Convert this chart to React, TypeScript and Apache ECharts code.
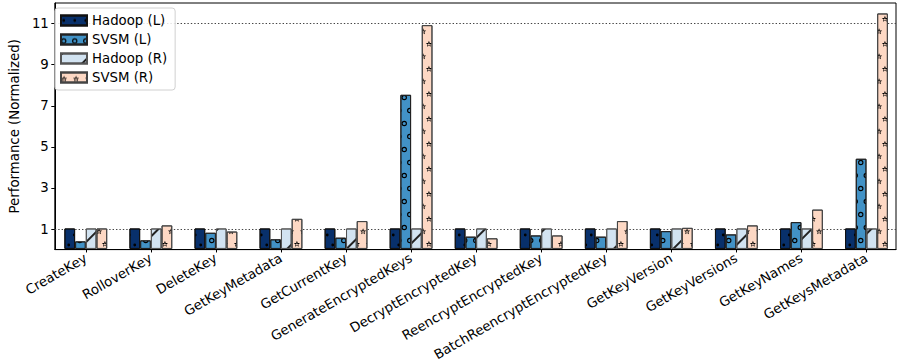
import React, { useEffect, useRef } from "react";
import * as echarts from "echarts";

const categories = [
  "CreateKey",
  "RolloverKey",
  "DeleteKey",
  "GetKeyMetadata",
  "GetCurrentKey",
  "GenerateEncryptedKeys",
  "DecryptEncryptedKey",
  "ReencryptEncryptedKey",
  "BatchReencryptEncryptedKey",
  "GetKeyVersion",
  "GetKeyVersions",
  "GetKeyNames",
  "GetKeysMetadata",
];
const hadoopL = [1, 1, 1, 1, 1, 1, 1, 1, 1, 1, 1, 1, 1];
const svsmL = [0.37, 0.42, 0.79, 0.47, 0.55, 7.52, 0.6, 0.66, 0.6, 0.87, 0.71, 1.31, 4.4];
const hadoopR = [1, 1, 1, 1, 1, 1, 1, 1, 1, 1, 1, 1, 1];
const svsmR = [1.0, 1.15, 0.85, 1.47, 1.36, 10.92, 0.52, 0.66, 1.36, 1.03, 1.15, 1.92, 11.49];
const seriesNames = ["Hadoop (L)", "SVSM (L)", "Hadoop (R)", "SVSM (R)"];
const yTicks = [1, 3, 5, 7, 9, 11];
const refLines = [1, 11];

// ---- hatch symbol helpers (pattern shapes only) ----
function star(cx: number, cy: number, R: number, r: number, reverse: boolean) {
  const pts: string[] = [];
  for (let i = 0; i < 10; i++) {
    const ang = -Math.PI / 2 + (i * Math.PI) / 5;
    const rad = i % 2 === 0 ? R : r;
    pts.push((cx + rad * Math.cos(ang)).toFixed(2) + " " + (cy + rad * Math.sin(ang)).toFixed(2));
  }
  if (reverse) pts.reverse();
  return "M " + pts.join(" L ") + " Z ";
}
function hollowStar(cx: number, cy: number, R: number) {
  return star(cx, cy, R, R * 0.45, false) + star(cx, cy + R * 0.1, R * 0.5, R * 0.2, true);
}
function circle(cx: number, cy: number, r: number, ccw: boolean) {
  const s = ccw ? 0 : 1;
  return `M ${cx} ${cy - r} A ${r} ${r} 0 1 ${s} ${cx} ${cy + r} A ${r} ${r} 0 1 ${s} ${cx} ${cy - r} Z `;
}
function ring(cx: number, cy: number, r: number, w: number) {
  return circle(cx, cy, r, false) + circle(cx, cy, r - w, true);
}
function tile(W: number, H: number, body: string) {
  // zero-area corner marks so the symbol box equals the tile
  return `path://M 0 0 L 0 0 Z M ${W} ${H} L ${W} ${H} Z ` + body;
}
const SW = 12;
const STAR_TILE = tile(SW, 25, hollowStar(3, 6.6, 3.3) + hollowStar(9, 19.1, 3.3));
const RW = 11;
const RING_TILE = tile(RW, 26, ring(2.75, 6.5, 2.7, 1.1) + ring(8.25, 19.5, 2.7, 1.1));
const DOT_TILE = tile(RW, 20, circle(2.75, 5, 1.4, false) + circle(8.25, 15, 1.4, false));

export default function App() {
  const ref = useRef<HTMLDivElement>(null);
  useEffect(() => {
    if (!ref.current) return;
    const chart = echarts.init(ref.current, null, { renderer: "svg" });
    const font = "'DejaVu Sans', sans-serif";
    const fs = 13.3;
    const colors = ["#08306b", "#4292c6", "#d2e3f1", "#fdd8c4"];
    const borders = ["#111", "#222", "#555", "#444"];
    const decals: any[] = [
      { symbol: DOT_TILE, symbolSize: 1, symbolKeepAspect: false, color: "#000", dashArrayX: [RW, 0], dashArrayY: [20, 0] },
      { symbol: RING_TILE, symbolSize: 1, symbolKeepAspect: false, color: "#000", dashArrayX: [RW, 0], dashArrayY: [26, 0] },
      {
        symbol: "rect",
        symbolSize: 1,
        color: "#222",
        dashArrayX: [1, 0],
        dashArrayY: [1.2, 19],
        rotation: -Math.PI / 4,
      },
      { symbol: STAR_TILE, symbolSize: 1, symbolKeepAspect: false, color: "#000", dashArrayX: [SW, 0], dashArrayY: [25, 0] },
    ];
    const data = [hadoopL, svsmL, hadoopR, svsmR];
    const series: any[] = data.map((arr, si) => ({
      name: seriesNames[si],
      type: "bar",
      xAxisIndex: 0,
      yAxisIndex: 0,
      barWidth: 10.7,
      barGap: "0%",
      z: 3,
      itemStyle: {
        color: colors[si],
        borderColor: borders[si],
        borderWidth: 1,
        decal: decals[si],
      },
      data: arr,
    }));
    series.push({
      name: "ref",
      type: "line",
      xAxisIndex: 1,
      yAxisIndex: 1,
      data: [],
      silent: true,
      markLine: {
        silent: true,
        symbol: "none",
        z: 1,
        label: { show: false },
        lineStyle: { color: "#444", type: [1.4, 2], width: 1 },
        data: refLines.map((v) => ({ yAxis: v })),
      },
    });
    const bandLeft = 53.27;
    const bandRight = 899 - 904.2;
    chart.setOption({
      animation: false,
      grid: [
        { left: bandLeft, right: bandRight, top: 3, bottom: 113.4, show: false },
        {
          left: 48.5,
          right: 3,
          top: 3,
          bottom: 113.4,
          show: true,
          borderColor: "#000",
          borderWidth: 1,
          backgroundColor: "transparent",
        },
      ],
      legend: {
        orient: "vertical",
        left: 55,
        top: 8,
        itemWidth: 26,
        itemHeight: 10,
        itemGap: 3,
        padding: [4.5, 8, 4.5, 5],
        backgroundColor: "rgba(255,255,255,0.85)",
        borderColor: "#d0d0d0",
        borderWidth: 1,
        borderRadius: 3,
        icon: "rect",
        textStyle: { fontSize: fs, color: "#000", fontFamily: font, lineHeight: 16 },
        data: seriesNames,
      },
      xAxis: [
        {
          type: "category",
          gridIndex: 0,
          data: categories,
          boundaryGap: true,
          axisLine: { show: false },
          splitLine: { show: false },
          axisTick: { show: true, alignWithLabel: true, length: 3.5, lineStyle: { color: "#000" } },
          axisLabel: {
            interval: 0,
            rotate: 30,
            fontSize: fs,
            color: "#000",
            fontFamily: font,
            margin: 8,
          },
        },
        {
          type: "value",
          gridIndex: 1,
          min: 0,
          max: 1,
          axisLine: { show: true, onZero: false, lineStyle: { color: "#000", width: 1 } },
          axisTick: { show: false },
          axisLabel: { show: false },
          splitLine: { show: false },
        },
      ],
      yAxis: [
        {
          type: "value",
          gridIndex: 0,
          min: 0,
          max: 12,
          show: false,
          splitLine: { show: false },
        },
        {
          type: "value",
          gridIndex: 1,
          min: 0,
          max: 12,
          name: "Performance (Normalized)",
          nameLocation: "middle",
          nameGap: 32,
          nameTextStyle: { fontSize: fs, color: "#000", fontFamily: font },
          splitLine: { show: false },
          axisLine: { show: true, onZero: false, lineStyle: { color: "#000", width: 1 } },
          axisTick: {
            show: true,
            length: 3.5,
            customValues: yTicks,
            lineStyle: { color: "#000" },
          },
          axisLabel: {
            customValues: yTicks,
            fontSize: fs,
            color: "#000",
            fontFamily: font,
            margin: 6,
          },
        },
      ],
      series,
    });
    return () => chart.dispose();
  }, []);
  return (
    <div
      ref={ref}
      style={{ position: "fixed", left: 0, top: 0, width: 899, height: 363, background: "#fff" }}
    />
  );
}
